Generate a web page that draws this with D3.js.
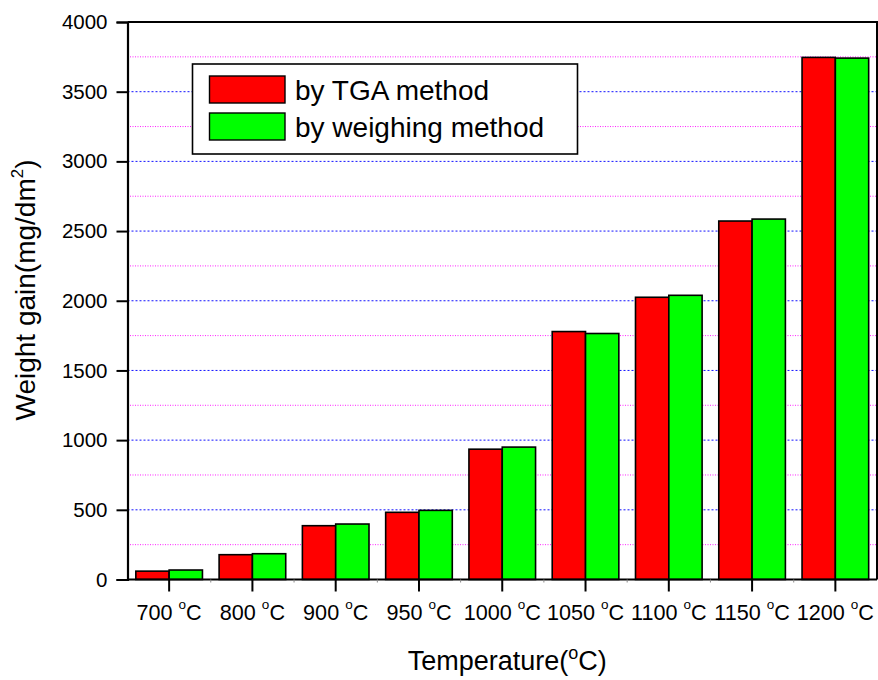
<!DOCTYPE html>
<html>
<head>
<meta charset="utf-8">
<script src="https://cdn.jsdelivr.net/npm/d3@7"></script>
<style>
  html, body { margin: 0; padding: 0; background: #fff; }
  svg { display: block; font-family: "Liberation Sans", Arial, Helvetica, sans-serif; }
</style>
</head>
<body>
<svg id="chart" width="878" height="680"></svg>
<script>
// Oxidation weight gain at each temperature, two measurement methods
const temperatures = ["700", "800", "900", "950", "1000", "1050", "1100", "1150", "1200"];
const tgaValues      = [60, 178, 386, 482, 935, 1779, 2025, 2572, 3746];
const weighingValues = [68, 185, 398, 496, 950, 1765, 2039, 2586, 3741];
const seriesNames  = ["by TGA method", "by weighing method"];
const seriesColors = ["#ff0000", "#00ff00"];
const yTicks      = [0, 500, 1000, 1500, 2000, 2500, 3000, 3500, 4000];
const yMinorGrid  = [250, 750, 1250, 1750, 2250, 2750, 3250, 3750];

const svg = d3.select("#chart");
const plotL = 127.5, plotR = 877, plotT = 22, plotB = 579.5;

const x = d3.scaleBand().domain(temperatures).range([plotL, plotR])
  .paddingInner(0.2).paddingOuter(0.1);
const xSeries = d3.scaleBand().domain([0, 1]).range([0, x.bandwidth()]);
const y = d3.scaleLinear().domain([0, 4000]).range([plotB, plotT]);

// grid lines
const grid = svg.append("g");
grid.selectAll("line.major").data(yTicks.filter(v => v > 0 && v < 4000)).join("line")
  .attr("class", "major")
  .attr("x1", plotL).attr("x2", plotR)
  .attr("y1", d => y(d)).attr("y2", d => y(d))
  .attr("stroke", "#1010ff").attr("stroke-width", 1)
  .attr("stroke-dasharray", "2,2");
grid.selectAll("line.minor").data(yMinorGrid).join("line")
  .attr("class", "minor")
  .attr("x1", plotL).attr("x2", plotR)
  .attr("y1", d => y(d)).attr("y2", d => y(d))
  .attr("stroke", "#ff20ff").attr("stroke-width", 1)
  .attr("stroke-dasharray", "1,1.5");

// bars
const rows = temperatures.map((t, i) => ({ t, values: [tgaValues[i], weighingValues[i]] }));
const groups = svg.append("g").selectAll("g").data(rows).join("g")
  .attr("transform", d => `translate(${x(d.t)},0)`);
groups.selectAll("rect").data(d => d.values.map((v, k) => ({ v, k }))).join("rect")
  .attr("x", d => xSeries(d.k))
  .attr("width", xSeries.bandwidth())
  .attr("y", d => y(d.v))
  .attr("height", d => y(0) - y(d.v))
  .attr("fill", d => seriesColors[d.k])
  .attr("stroke", "#000").attr("stroke-width", 1.6);

// frame (top and right)
svg.append("path")
  .attr("d", `M${plotL},${plotT}H${plotR}V${plotB}`)
  .attr("fill", "none").attr("stroke", "#000").attr("stroke-width", 2);

// y axis
const yAxis = svg.append("g").attr("transform", `translate(${plotL},0)`)
  .call(d3.axisLeft(y).tickValues(yTicks).tickSize(11).tickPadding(9).tickFormat(d3.format("d")));
yAxis.select(".domain").attr("stroke-width", 2.2);
yAxis.selectAll(".tick line").attr("stroke-width", 2);
yAxis.selectAll(".tick text").attr("font-size", 20.5).attr("fill", "#000")
  .attr("font-family", "Liberation Sans, Arial, sans-serif");

// x axis
const xAxis = svg.append("g").attr("transform", `translate(0,${plotB})`)
  .call(d3.axisBottom(x).tickSize(12).tickFormat(""));
xAxis.select(".domain").attr("d", `M${plotL},0H${plotR}`).attr("stroke-width", 2.2);
xAxis.selectAll(".tick line").attr("stroke-width", 2);

// minor ticks at category boundaries
const bounds = temperatures.map(t => x(t) - x.step() * x.paddingInner() / 2);
svg.append("g").selectAll("line").data(bounds.slice(1)).join("line")
  .attr("x1", d => d).attr("x2", d => d)
  .attr("y1", plotB).attr("y2", plotB + 3)
  .attr("stroke", "#888").attr("stroke-width", 1);

// x tick labels with superscript degree sign
const xl = svg.append("g").selectAll("text").data(temperatures).join("text")
  .attr("x", d => x(d) + x.bandwidth() / 2)
  .attr("y", 620)
  .attr("text-anchor", "middle")
  .attr("font-size", 21.6)
  .attr("fill", "#000");
xl.append("tspan").text(d => d + " ");
xl.append("tspan").text("o").attr("font-size", 13.5).attr("dy", -11);
xl.append("tspan").text("C").attr("dy", 11);

// x axis title
const xt = svg.append("text")
  .attr("x", (plotL + plotR) / 2 + 5).attr("y", 670)
  .attr("text-anchor", "middle").attr("font-size", 27).attr("fill", "#000");
xt.append("tspan").text("Temperature(");
xt.append("tspan").text("o").attr("font-size", 18).attr("dy", -11);
xt.append("tspan").text("C)").attr("dy", 11);

// y axis title
const yt = svg.append("text")
  .attr("transform", "translate(34.5,290) rotate(-90)")
  .attr("text-anchor", "middle").attr("font-size", 28).attr("fill", "#000");
yt.append("tspan").text("Weight gain(mg/dm");
yt.append("tspan").text("2").attr("font-size", 17).attr("dy", -12);
yt.append("tspan").text(")").attr("dy", 12);

// legend
const legend = svg.append("g");
legend.append("rect")
  .attr("x", 192.5).attr("y", 64).attr("width", 385).attr("height", 90)
  .attr("fill", "#fff").attr("stroke", "#000").attr("stroke-width", 1.6);
const items = legend.selectAll("g").data(seriesNames).join("g")
  .attr("transform", (d, i) => `translate(0,${i * 37})`);
items.append("rect")
  .attr("x", 209.5).attr("y", 76).attr("width", 75.5).attr("height", 27)
  .attr("fill", (d, i) => seriesColors[i]).attr("stroke", "#000").attr("stroke-width", 1.4);
items.append("text")
  .attr("x", 295).attr("y", 99.5)
  .attr("font-size", 28).attr("fill", "#000")
  .text(d => d);
</script>
</body>
</html>
